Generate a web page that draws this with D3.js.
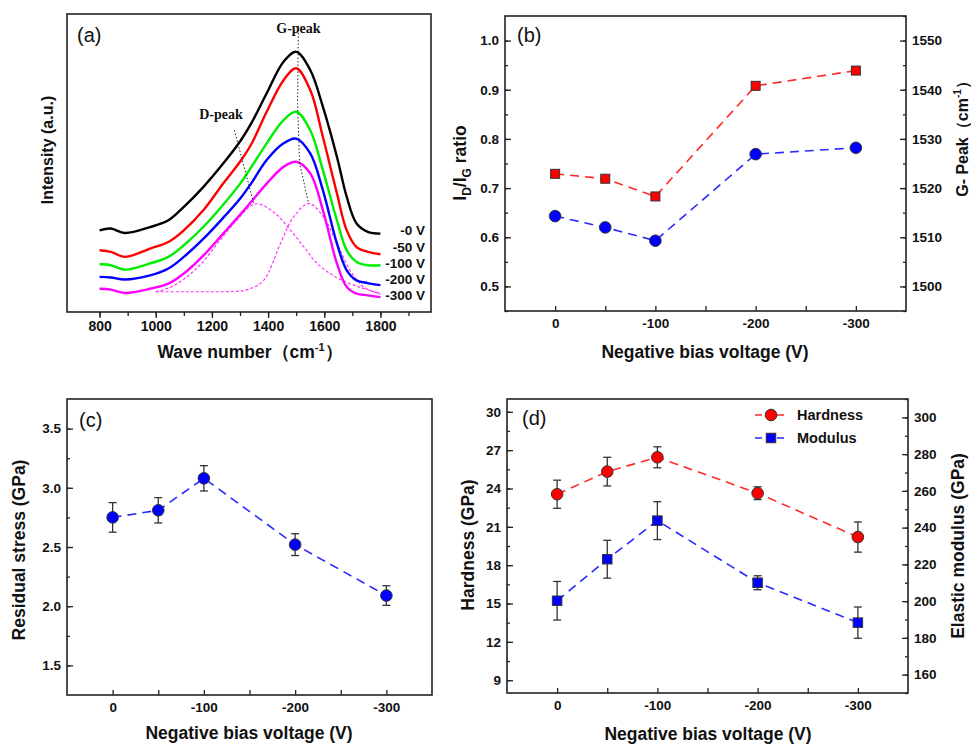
<!DOCTYPE html>
<html>
<head>
<meta charset="utf-8">
<script src="https://cdn.jsdelivr.net/npm/d3@7/dist/d3.min.js"></script>
<style>
body { margin: 0; background: #fff; }
</style>
</head>
<body>
<svg width="971" height="744"></svg>
<script>
// ---- data ----
var waveNumbers = [800, 840, 890, 980, 1045, 1100, 1170, 1240, 1300, 1340, 1395, 1455, 1500, 1550, 1595, 1645, 1680, 1715, 1755, 1800];
var spectrum0V   = [27.4, 28.0, 26.5, 28.5, 30.8, 35.3, 42.0, 49.8, 57.2, 63.3, 73.4, 84.0, 87.3, 81.2, 68.9, 52.1, 38.6, 29.7, 26.9, 26.3];
var spectrum50V  = [20.7, 20.2, 18.5, 21.3, 23.5, 27.4, 34.2, 43.1, 50.4, 56.3, 67.2, 77.8, 81.8, 74.5, 58.8, 39.8, 27.4, 21.8, 20.2, 19.4];
var spectrum100V = [16.0, 15.7, 14.2, 16.3, 18.5, 22.4, 28.6, 36.0, 43.0, 48.6, 56.6, 64.4, 67.2, 61.0, 47.6, 30.8, 20.7, 16.8, 15.7, 15.7];
var spectrum200V = [11.8, 11.6, 10.9, 12.3, 14.6, 18.5, 24.6, 31.6, 38.0, 43.2, 51.0, 56.6, 58.2, 53.2, 40.9, 23.0, 14.0, 10.6, 9.7, 9.0];
var spectrum300V = [7.8, 7.5, 6.4, 7.8, 9.5, 12.9, 19.0, 26.3, 32.6, 37.0, 43.1, 48.7, 50.4, 46.5, 34.2, 16.3, 8.4, 6.2, 5.6, 5.0];
var spectrumLabels = ["-0 V", "-50 V", "-100 V", "-200 V", "-300 V"];
var spectrumColors = ["#000000", "#ff0000", "#00ee00", "#0000ff", "#ff00ff"];

// gaussian fit of the -300 V spectrum
var dBandWave = [1000, 1050, 1100, 1160, 1220, 1290, 1355, 1420, 1480, 1530, 1575, 1645, 1730, 1800];
var dBandFit  = [6.8, 8.2, 11.0, 16.0, 23.0, 31.0, 36.3, 33.5, 27.4, 21.5, 16.3, 11.5, 8.2, 6.2];
var gBandWave = [1000, 1100, 1200, 1280, 1330, 1384, 1444, 1491, 1545, 1597, 1645, 1692, 1740, 1800];
var gBandFit  = [6.8, 6.8, 6.8, 6.9, 7.6, 10.6, 23.0, 31.9, 36.4, 31.9, 23.0, 14.0, 8.4, 6.0];
var gPeakGuide = [[1508, 96], [1505, 70], [1512, 50], [1543, 37]];
var dPeakGuide = [[1280, 61], [1350, 36]];

var biasVoltages = [0, -50, -100, -200, -300];
var idigRatio = [0.729, 0.719, 0.683, 0.908, 0.939];
var gPeakPosition = [1514.3, 1512.0, 1509.3, 1526.9, 1528.2];
var residualStress = [2.75, 2.81, 3.08, 2.52, 2.09];
var residualStressErr = [0.125, 0.107, 0.107, 0.092, 0.083];
var hardness = [23.55, 25.32, 26.44, 23.63, 20.2];
var hardnessErr = [1.1, 1.12, 0.82, 0.5, 1.18];
var modulus = [200.2, 222.8, 243.8, 210.0, 188.3];
var modulusErr = [10.5, 10.3, 10.3, 3.8, 8.5];

// ---- drawing ----
var FONT = '"Liberation Sans", Arial, sans-serif';
var TICK_FONT = 13.5;
var TITLE_FONT = 17.5;
var svg = d3.select("svg");
svg.append("rect").attr("width", 971).attr("height", 744).attr("fill", "#fff");

function fmt_bias(v){
    return v === 0 ? "0" : "-" + v;
}

function style_axis(a, fs){
    a.select(".domain").remove();
    a.selectAll("line").attr("stroke", "#222").attr("stroke-width", 1.3);
    a.selectAll("text")
        .attr("font-family", FONT)
        .attr("font-weight", "bold")
        .attr("font-size", fs || TICK_FONT)
        .attr("fill", "#111");
    return a;
}

function add_axis(axis, tx, ty, fs){
    var a = svg.append("g").attr("transform", "translate(" + tx + "," + ty + ")").call(axis);
    return style_axis(a, fs);
}

function draw_frame(box){
    svg.append("rect")
        .attr("x", box.left).attr("y", box.top)
        .attr("width", box.right - box.left).attr("height", box.bottom - box.top)
        .attr("fill", "none").attr("stroke", "#222").attr("stroke-width", 1.6);
}

function panel_label(txt, x, y){
    svg.append("text").attr("x", x).attr("y", y)
        .attr("font-family", FONT).attr("font-size", 20).attr("fill", "#111")
        .text(txt);
}

function title_text(x, y, rotate){
    var t = svg.append("text")
        .attr("font-family", FONT).attr("font-weight", "bold")
        .attr("font-size", TITLE_FONT).attr("fill", "#111")
        .attr("text-anchor", "middle");
    if (rotate){
        t.attr("transform", "translate(" + x + "," + y + ") rotate(-90)");
    } else {
        t.attr("x", x).attr("y", y);
    }
    return t;
}

function bias_axis(box){
    var x = d3.scaleLinear().domain([-50, 350]).range([box.left, box.right]);
    add_axis(d3.axisBottom(x).tickValues(d3.range(0, 301, 50)).tickSize(-5).tickPadding(7)
        .tickFormat(function(d){ return d % 100 === 0 ? fmt_bias(d) : ""; }), 0, box.bottom);
    return x;
}

function left_axis(y, box, major, minor, fmt){
    add_axis(d3.axisLeft(y).tickValues(minor).tickSize(-3).tickFormat(""), box.left, 0);
    add_axis(d3.axisLeft(y).tickValues(major).tickSize(-6).tickPadding(6).tickFormat(fmt), box.left, 0);
}

function right_axis(y, box, major, minor, fmt){
    add_axis(d3.axisRight(y).tickValues(minor).tickSize(-3).tickFormat(""), box.right, 0);
    add_axis(d3.axisRight(y).tickValues(major).tickSize(-6).tickPadding(6).tickFormat(fmt), box.right, 0);
}

function dashed_series(x, y, vals, color){
    var pts = biasVoltages.map(function(v, i){ return [Math.abs(v), vals[i]]; });
    svg.append("path")
        .attr("d", d3.line().x(function(d){ return x(d[0]); }).y(function(d){ return y(d[1]); })(pts))
        .attr("fill", "none").attr("stroke", color)
        .attr("stroke-width", 1.6).attr("stroke-dasharray", "9,6");
    return pts;
}

function error_bars(x, y, vals, errs){
    var g = svg.append("g").attr("stroke", "#333").attr("stroke-width", 1.3);
    biasVoltages.forEach(function(v, i){
        var xx = x(Math.abs(v));
        var y1 = y(vals[i] - errs[i]), y2 = y(vals[i] + errs[i]);
        g.append("line").attr("x1", xx).attr("x2", xx).attr("y1", y1).attr("y2", y2);
        g.append("line").attr("x1", xx - 4).attr("x2", xx + 4).attr("y1", y1).attr("y2", y1);
        g.append("line").attr("x1", xx - 4).attr("x2", xx + 4).attr("y1", y2).attr("y2", y2);
    });
}

function circles(x, y, pts, color, r){
    svg.append("g").selectAll("circle").data(pts).join("circle")
        .attr("cx", function(d){ return x(d[0]); })
        .attr("cy", function(d){ return y(d[1]); })
        .attr("r", r || 5.5)
        .attr("fill", color).attr("stroke", "#333").attr("stroke-width", 1);
}

function squares(x, y, pts, color, s){
    s = s || 9;
    svg.append("g").selectAll("rect").data(pts).join("rect")
        .attr("x", function(d){ return x(d[0]) - s / 2; })
        .attr("y", function(d){ return y(d[1]) - s / 2; })
        .attr("width", s).attr("height", s)
        .attr("fill", color).attr("stroke", "#333").attr("stroke-width", 1);
}

// ===== (a) Raman spectra =====
var boxA = {left: 67, right: 431, top: 14, bottom: 312};
var xWave = d3.scaleLinear().domain([684, 1980]).range([boxA.left, boxA.right]);
var yInt = d3.scaleLinear().domain([0, 100]).range([boxA.bottom, boxA.top]);

var specLine = d3.line()
    .x(function(d){ return xWave(d[0]); })
    .y(function(d){ return yInt(d[1]); })
    .curve(d3.curveCatmullRom);

function pairs(xs, ys){
    return xs.map(function(v, i){ return [v, ys[i]]; });
}

// fitted peaks
[[dBandWave, dBandFit], [gBandWave, gBandFit]].forEach(function(f){
    svg.append("path").attr("d", specLine(pairs(f[0], f[1])))
        .attr("fill", "none").attr("stroke", "#ff33ff")
        .attr("stroke-width", 1.2).attr("stroke-dasharray", "3,2");
});

var spectra = [spectrum0V, spectrum50V, spectrum100V, spectrum200V, spectrum300V];
spectra.slice().reverse().forEach(function(s, k){
    var i = spectra.length - 1 - k;
    svg.append("path").attr("d", specLine(pairs(waveNumbers, s)))
        .attr("fill", "none").attr("stroke", spectrumColors[i])
        .attr("stroke-width", 2.4).attr("stroke-linejoin", "round");
});

// peak guides
var guideLine = d3.line().x(function(d){ return xWave(d[0]); }).y(function(d){ return yInt(d[1]); });
[gPeakGuide, dPeakGuide].forEach(function(gd){
    svg.append("path").attr("d", guideLine(gd))
        .attr("fill", "none").attr("stroke", "#222")
        .attr("stroke-width", 1).attr("stroke-dasharray", "1.5,2");
});
svg.append("text").attr("x", xWave(1508)).attr("y", 33)
    .attr("text-anchor", "middle").attr("font-family", '"Liberation Serif", "Times New Roman", serif')
    .attr("font-weight", "bold").attr("font-size", 14).attr("fill", "#111").text("G-peak");
svg.append("text").attr("x", 221).attr("y", 119)
    .attr("text-anchor", "middle").attr("font-family", '"Liberation Serif", "Times New Roman", serif')
    .attr("font-weight", "bold").attr("font-size", 14).attr("fill", "#111").text("D-peak");

// curve labels
var labelY = [235, 251.5, 267.5, 283.5, 299.5];
spectrumLabels.forEach(function(l, i){
    svg.append("text").attr("x", 425).attr("y", labelY[i])
        .attr("text-anchor", "end").attr("font-family", FONT)
        .attr("font-weight", "bold").attr("font-size", 13.5).attr("fill", "#111").text(l);
});

draw_frame(boxA);
add_axis(d3.axisBottom(xWave).tickValues(d3.range(800, 1901, 100)).tickSize(4).tickFormat(""), 0, boxA.bottom);
add_axis(d3.axisBottom(xWave).tickValues(d3.range(800, 1801, 200)).tickSize(6).tickPadding(3).tickFormat(d3.format("d")), 0, boxA.bottom, 14);
panel_label("(a)", 77, 42);

var tA = title_text(250, 358, false);
tA.append("tspan").text("Wave number（cm");
tA.append("tspan").attr("dy", -7).attr("font-size", 11).text("-1");
tA.append("tspan").attr("dy", 7).text("）");
title_text(53, 150, true).attr("font-size", 16).text("Intensity (a.u.)");

// ===== (b) ID/IG and G peak =====
var boxB = {left: 505, right: 906, top: 16, bottom: 311};
draw_frame(boxB);
var xB = bias_axis(boxB);
var yRatio = d3.scaleLinear().domain([0.45, 1.05]).range([boxB.bottom, boxB.top]);
var yGPeak = d3.scaleLinear().domain([1495, 1555]).range([boxB.bottom, boxB.top]);
left_axis(yRatio, boxB, d3.range(5, 11).map(function(v){ return v / 10; }),
    d3.range(9, 21).map(function(v){ return v / 20; }), d3.format(".1f"));
right_axis(yGPeak, boxB, d3.range(1500, 1551, 10), d3.range(1495, 1556, 5), d3.format("d"));

var ptsRatio = dashed_series(xB, yRatio, idigRatio, "#ff2a2a");
var ptsG = dashed_series(xB, yGPeak, gPeakPosition, "#2a2aff");
squares(xB, yRatio, ptsRatio, "#ff0000", 9);
circles(xB, yGPeak, ptsG, "#0000ff", 5.8);
panel_label("(b)", 517, 42);

title_text(705, 358, false).text("Negative bias voltage (V)");
var tB = title_text(466, 163, true);
tB.append("tspan").text("I");
tB.append("tspan").attr("dy", 5).attr("font-size", 12).text("D");
tB.append("tspan").attr("dy", -5).text("/I");
tB.append("tspan").attr("dy", 5).attr("font-size", 12).text("G");
tB.append("tspan").attr("dy", -5).text(" ratio");
var tB2 = title_text(968, 135, true).attr("font-size", 16);
tB2.append("tspan").text("G- Peak（cm");
tB2.append("tspan").attr("dy", -7).attr("font-size", 10).text("-1");
tB2.append("tspan").attr("dy", 7).text("）");

// ===== (c) residual stress =====
var boxC = {left: 67, right: 432, top: 399, bottom: 695};
draw_frame(boxC);
var xC = bias_axis(boxC);
var yStress = d3.scaleLinear().domain([1.25, 3.75]).range([boxC.bottom, boxC.top]);
left_axis(yStress, boxC, d3.range(3, 8).map(function(v){ return v / 2; }),
    d3.range(6, 15).map(function(v){ return v / 4; }), d3.format(".1f"));
var ptsS = dashed_series(xC, yStress, residualStress, "#2a2aff");
error_bars(xC, yStress, residualStress, residualStressErr);
circles(xC, yStress, ptsS, "#0000ff", 5.8);
panel_label("(c)", 79, 427);
title_text(249, 739, false).text("Negative bias voltage (V)");
title_text(25, 550, true).text("Residual stress (GPa)");

// ===== (d) hardness and modulus =====
var boxD = {left: 507, right: 908, top: 399, bottom: 693};
draw_frame(boxD);
var xD = bias_axis(boxD);
var yHard = d3.scaleLinear().domain([8, 31]).range([boxD.bottom, boxD.top]);
var yMod = d3.scaleLinear().domain([150, 310]).range([boxD.bottom, boxD.top]);
left_axis(yHard, boxD, d3.range(9, 31, 3), d3.range(9, 31, 1.5), d3.format("d"));
right_axis(yMod, boxD, d3.range(160, 301, 20), d3.range(150, 311, 10), d3.format("d"));

var ptsH = dashed_series(xD, yHard, hardness, "#ff2a2a");
var ptsM = dashed_series(xD, yMod, modulus, "#2a2aff");
error_bars(xD, yHard, hardness, hardnessErr);
error_bars(xD, yMod, modulus, modulusErr);
circles(xD, yHard, ptsH, "#ff0000", 5.8);
squares(xD, yMod, ptsM, "#0000ff", 9.5);
panel_label("(d)", 522, 425);

// legend
var legendItems = [
    {name: "Hardness", color: "#ff2a2a", fill: "#ff0000", shape: "circle", y: 415},
    {name: "Modulus", color: "#2a2aff", fill: "#0000ff", shape: "square", y: 438}
];
legendItems.forEach(function(it){
    svg.append("line").attr("x1", 755).attr("x2", 786).attr("y1", it.y).attr("y2", it.y)
        .attr("stroke", it.color).attr("stroke-width", 1.6).attr("stroke-dasharray", "7,4");
    if (it.shape === "circle"){
        svg.append("circle").attr("cx", 771).attr("cy", it.y).attr("r", 5.8)
            .attr("fill", it.fill).attr("stroke", "#333");
    } else {
        svg.append("rect").attr("x", 771 - 4.75).attr("y", it.y - 4.75).attr("width", 9.5).attr("height", 9.5)
            .attr("fill", it.fill).attr("stroke", "#333");
    }
    svg.append("text").attr("x", 797).attr("y", it.y + 5)
        .attr("font-family", FONT).attr("font-weight", "bold").attr("font-size", 14.5)
        .attr("fill", "#111").text(it.name);
});

title_text(708, 740, false).text("Negative bias voltage (V)");
title_text(474, 545, true).text("Hardness (GPa)");
title_text(964, 546, true).text("Elastic modulus (GPa)");
</script>
</body>
</html>
